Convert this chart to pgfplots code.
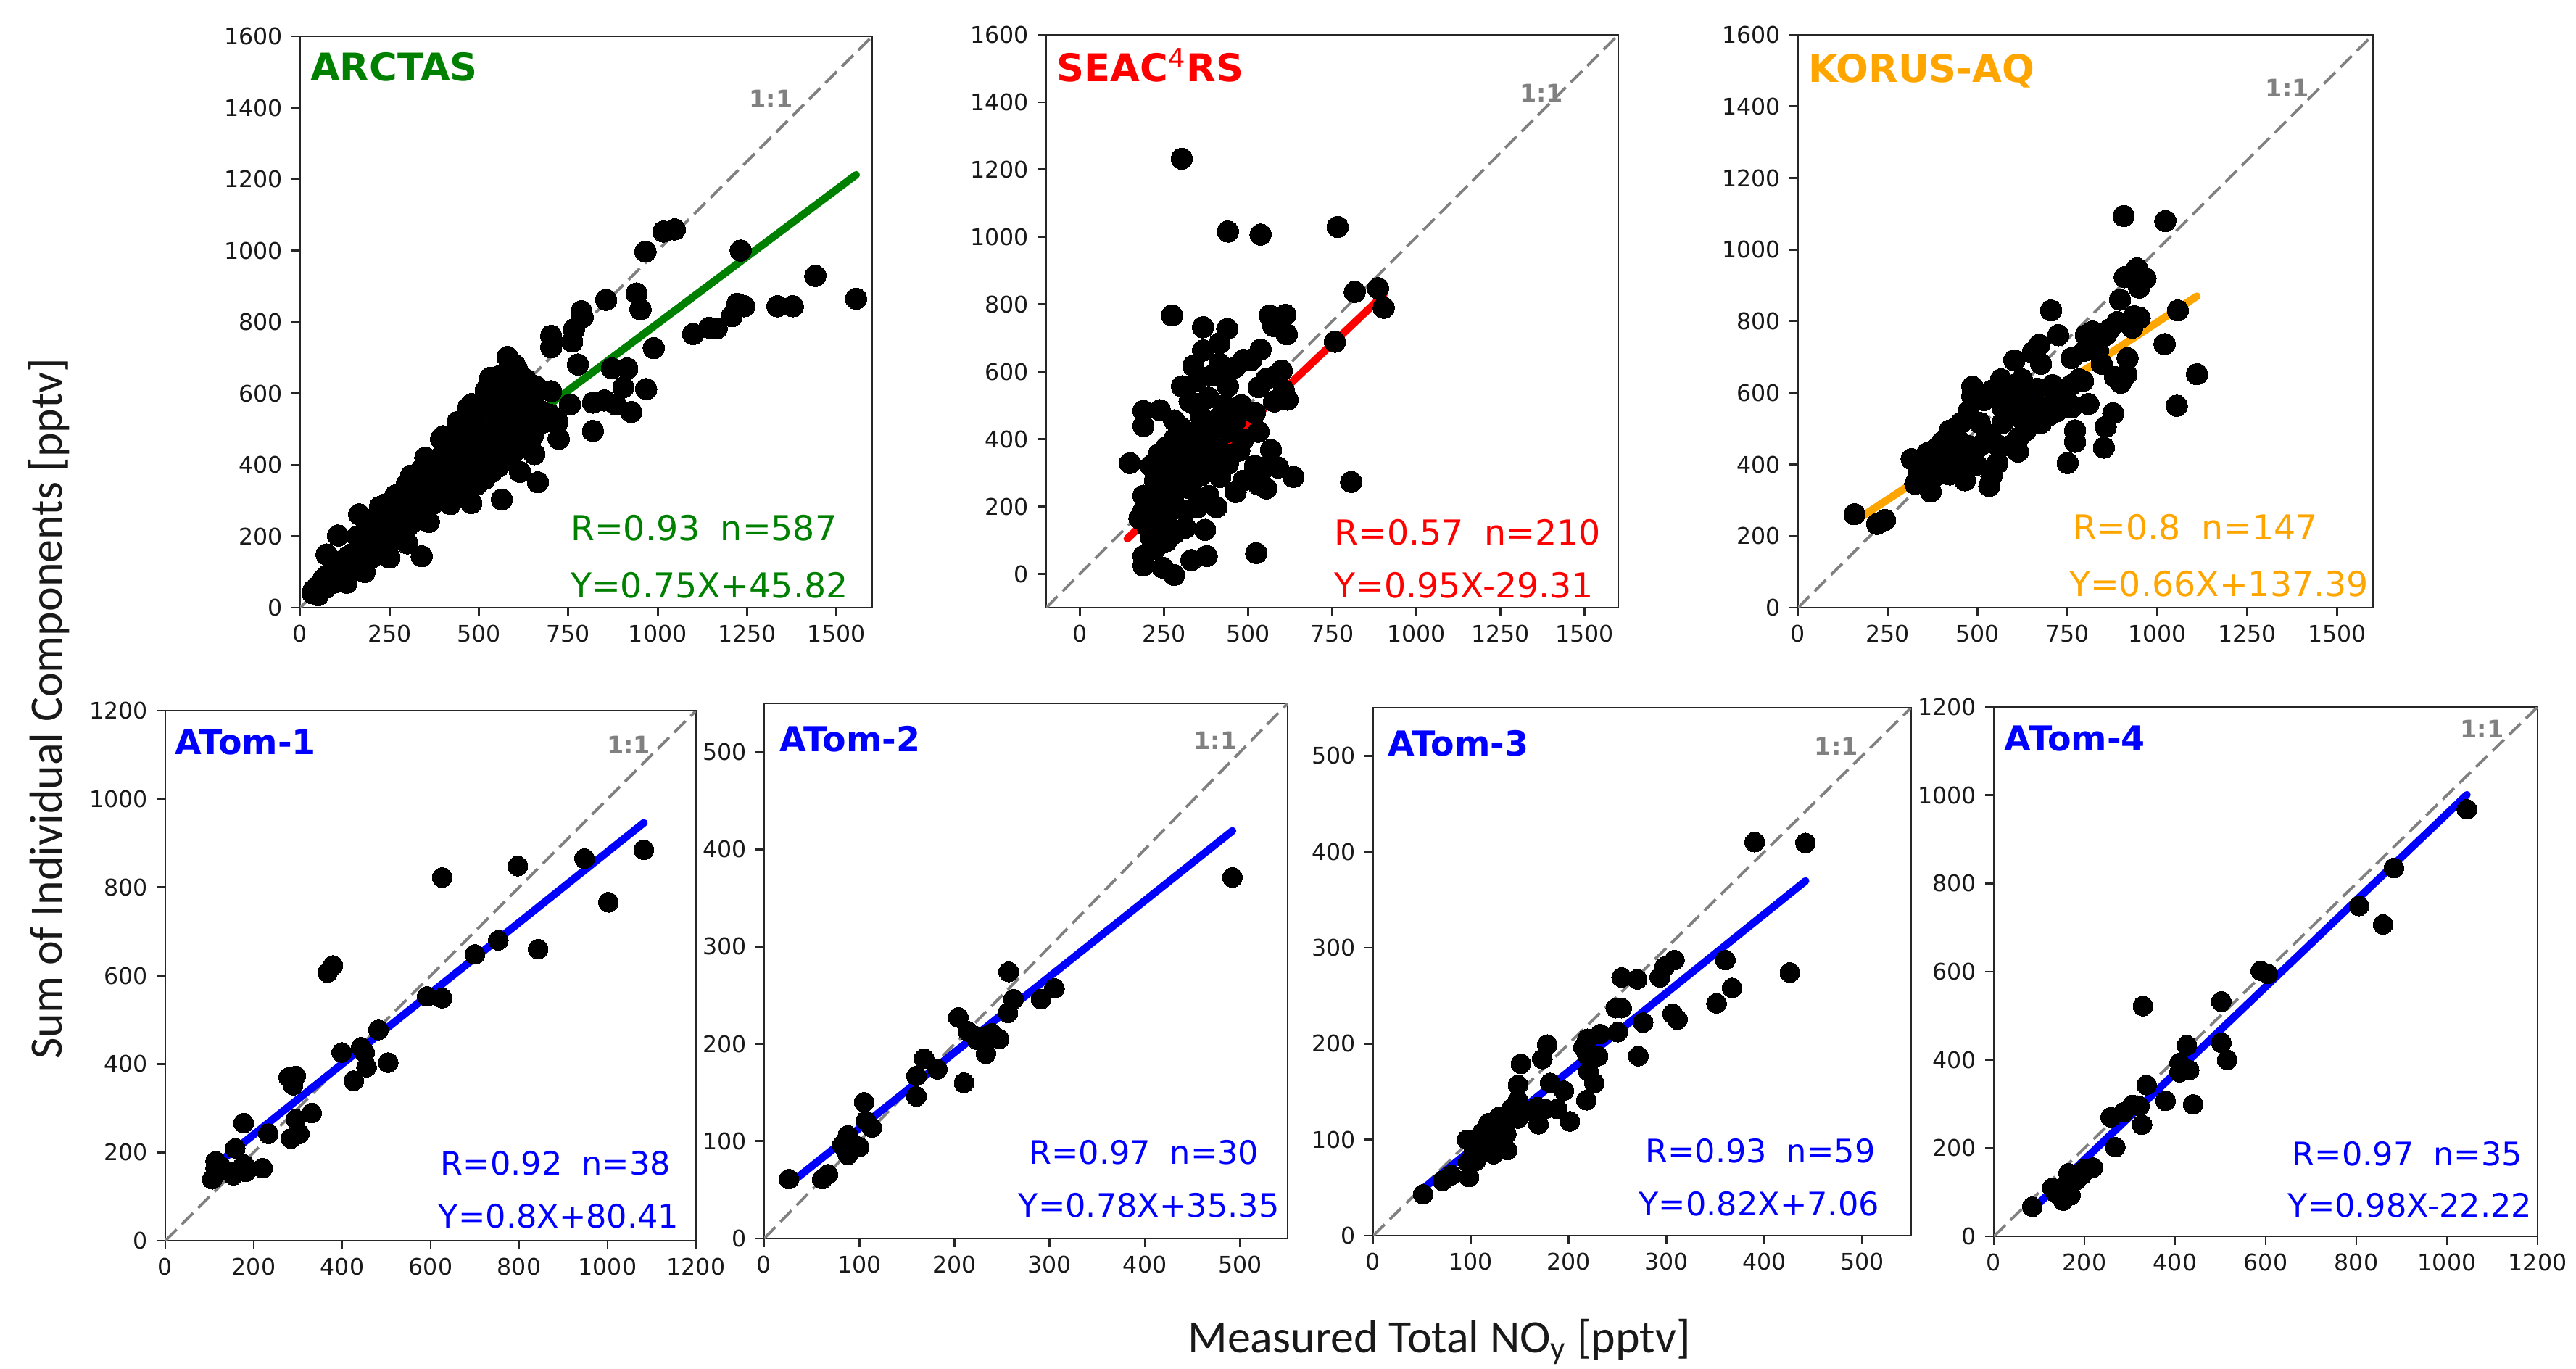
\documentclass[border=0pt]{standalone}
\usepackage{fontspec}
\setmainfont{DejaVu Sans}
\newfontfamily\carlito{Carlito}
\usepackage{pgfplots}
\pgfplotsset{compat=1.18}

\definecolor{cgreen}{HTML}{008000}
\definecolor{cred}{HTML}{FF0000}
\definecolor{corange}{HTML}{FFA500}
\definecolor{cblue}{HTML}{0000FF}
\definecolor{cgray}{HTML}{808080}

\newcommand{\tickfont}{\fontsize{9}{10}\selectfont}
\newcommand{\statfont}{\fontsize{13.5}{15}\selectfont}
\newcommand{\statfontb}{\fontsize{12.7}{14}\selectfont}
\newcommand{\ttlfont}{\fontsize{15}{17}\selectfont\bfseries}
\newcommand{\ttlfontb}{\fontsize{13.5}{15}\selectfont\bfseries}
\newcommand{\labfont}{\carlito\fontsize{18.2}{21}\selectfont}

\pgfplotsset{
  panel/.style={
    scale only axis, anchor=north west,
    axis line style={line width=0.8pt, black!85},
    tick align=outside, xtick pos=left, ytick pos=left,
    major tick length=0.12cm,
    every tick/.append style={line width=0.8pt, black!85},
    ticklabel style={font=\tickfont, text=black!90},
    /pgf/number format/assume math mode=true,
    /pgf/number format/1000 sep={},
  },
  pts/.style={only marks, mark=*, mark size=#1,
    mark options={fill=black, draw=black, line width=0pt}},
  oneone/.style={cgray, line width=1.1pt, dash pattern=on 0.22cm off 0.10cm},
  fit/.style={line width=3pt, line cap=round},
}

\begin{document}
\begin{tikzpicture}
\useasboundingbox (0,0) rectangle (35.53cm,-18.87cm);

% ---------------- ARCTAS ----------------
\begin{axis}[panel, at={(4.14cm,-0.50cm)}, width=7.89cm, height=7.88cm,
  xmin=0, xmax=1600, ymin=0, ymax=1600,
  xtick={0,250,...,1500}, ytick={0,200,...,1600}]
\addplot[pts=4.2pt] coordinates {
(1555,865) (1441,929) (1378,844) (1335,844) (1242,844) (1223,851) (1207,816)
(1165,782) (1144,784) (1099,766) (1232,1000) (1016,1053) (1048,1059) (966,997)
(989,727) (941,880) (952,835) (856,862) (787,830) (790,814) (766,780) (702,761)
(702,729) (761,745) (580,702) (606,670) (532,644) (777,681) (915,670) (872,670)
(904,617) (968,612) (926,548) (819,574) (851,580) (883,569) (702,606) (755,569)
(723,473) (819,495) (665,351) (564,303) (479,293) (340,144) (106,202) (165,261)
(74,149) (37,48) (394,473) (441,495) (378,404) (479,537) (521,590) (564,622)
(649,580) (713,527) (298,346) (340,388) (223,282) (266,314)
(35,40) (45,55) (50,35) (55,65) (60,50) (65,80) (70,55) (75,90) (80,65) (85,75)
(90,100) (95,70) (100,120) (100,85) (110,95) (115,130) (120,110) (125,85)
(130,140) (135,115) (140,100) (145,150) (150,125)
(155,110) (160,160) (165,135) (170,120) (175,175) (180,150) (185,130) (190,190)
(195,160) (200,140) (205,210) (210,175) (215,150) (220,230) (225,190) (230,160)
(235,240) (240,200) (245,175) (250,255) (250,220) (255,185)
(260,270) (265,230) (270,200) (275,285) (280,245) (285,210) (290,300) (295,260)
(300,225) (305,320) (310,275) (315,240) (320,335) (325,290) (330,250) (335,350)
(340,305) (345,265) (350,370) (350,320) (355,280)
(360,385) (365,335) (370,290) (375,400) (380,350) (385,305) (390,420) (395,365)
(400,320) (405,440) (410,380) (415,335) (420,455) (425,395) (430,350) (435,470)
(440,410) (445,360) (450,490) (450,425) (455,375) (460,330)
(465,505) (470,440) (475,390) (480,520) (485,455) (490,400) (495,345) (500,540)
(505,470) (510,415) (515,360) (520,555) (525,485) (530,430) (535,380) (540,575)
(545,500) (550,445) (555,395) (560,590) (560,520) (565,460)
(570,410) (575,610) (580,540) (585,480) (590,425) (595,630) (600,560) (605,500)
(610,445) (615,380) (620,580) (625,520) (630,465) (640,600) (645,540) (650,480)
(655,430) (660,560) (665,510) (675,550) (685,520) (700,540) (720,520) (660,620)
(630,640) (600,680) (560,650) (520,610) (480,570)
(240,290) (200,240) (160,200) (310,370) (350,420) (400,480) (440,520) (470,560)
(520,600) (580,660) (300,180) (360,240) (420,290) (250,140) (180,100) (130,70)
};
\addplot[oneone] coordinates {(0,0) (1600,1600)};
\addplot[fit, cgreen] coordinates {(32,69.8) (1555,1212)};
\node[anchor=north west, inner sep=0pt, text=cgreen, font=\ttlfont]
  at (rel axis cs:0.017,0.973) {ARCTAS};
\node[text=cgray, font=\fontsize{9.5}{11}\selectfont\bfseries]
  at (rel axis cs:0.823,0.89) {1:1};
\node[anchor=base west, inner sep=0pt, text=cgreen, font=\statfont]
  at (rel axis cs:0.472,0.117) {R=0.93\hspace{0.6em}n=587};
\node[anchor=base west, inner sep=0pt, text=cgreen, font=\statfont]
  at (rel axis cs:0.472,0.017) {Y=0.75X+45.82};
\end{axis}

% ---------------- SEAC4RS ----------------
\begin{axis}[panel, at={(14.43cm,-0.48cm)}, width=7.89cm, height=7.90cm,
  xmin=-100, xmax=1600, ymin=-100, ymax=1600,
  xtick={0,250,...,1500}, ytick={0,200,...,1600}]
\addplot[pts=4.2pt] coordinates {
(303,1232) (440,1016) (537,1007) (766,1030) (817,837) (886,848) (903,790)
(274,767) (366,732) (438,727) (564,767) (611,769) (575,736) (615,711) (758,689)
(806,273) (524,62) (149,329) (189,484) (238,486) (189,439)
(415,685) (366,663) (537,666) (509,635) (337,618) (415,624) (461,613) (600,604)
(577,585) (531,554) (349,573) (394,590) (440,557) (383,523) (337,506) (429,501)
(480,501) (617,517) (606,545) (360,467) (417,467) (463,456) (303,433) (349,422)
(394,428) (440,422) (531,422) (486,400) (280,400) (257,377) (314,377) (360,377)
(417,366) (568,368) (234,355) (292,344) (337,344) (394,333) (440,327) (520,321)
(543,310) (589,316) (635,288) (211,321) (246,310) (303,299) (360,293) (417,288)
(486,277) (531,265) (463,243) (554,254) (223,277) (269,265) (326,254) (383,232)
(349,198) (189,232) (234,221) (280,209) (314,187) (189,187) (223,176) (257,165)
(200,142) (246,131) (314,137) (372,131) (211,109) (257,97) (223,75) (189,53)
(189,25) (246,19) (280,-3) (331,41) (377,53) (280,456) (326,512) (303,557)
(429,590) (486,635) (554,579) (577,512) (520,478) (383,400) (474,366) (269,243)
(177,165) (326,400) (406,198) (280,120)
};
\addplot[oneone] coordinates {(-100,-100) (1600,1600)};
\addplot[fit, cred] coordinates {(141,104.6) (903,828.5)};
\node[anchor=north west, inner sep=0pt, text=cred, font=\ttlfont]
  at (rel axis cs:0.018,0.977) {SEAC\textsuperscript{\mdseries 4}RS};
\node[text=cgray, font=\fontsize{9.5}{11}\selectfont\bfseries]
  at (rel axis cs:0.866,0.898) {1:1};
\node[anchor=base west, inner sep=0pt, text=cred, font=\statfont]
  at (rel axis cs:0.503,0.110) {R=0.57\hspace{0.6em}n=210};
\node[anchor=base west, inner sep=0pt, text=cred, font=\statfont]
  at (rel axis cs:0.503,0.017) {Y=0.95X-29.31};
\end{axis}

% ---------------- KORUS-AQ ----------------
\begin{axis}[panel, at={(24.80cm,-0.48cm)}, width=7.93cm, height=7.90cm,
  xmin=0, xmax=1600, ymin=0, ymax=1600,
  xtick={0,250,...,1500}, ytick={0,200,...,1600}]
\addplot[pts=4.2pt] coordinates {
(906,1094) (1022,1080) (943,947) (909,923) (967,920) (949,894) (896,860)
(704,830) (1057,830) (935,814) (888,798) (951,809) (724,761) (801,761) (819,771)
(856,761) (1020,736) (671,734) (653,713) (798,718) (761,697) (917,697) (845,681)
(602,691) (676,681) (1110,652) (914,652) (882,644) (898,628) (782,638) (761,622)
(565,638) (538,606) (485,617) (485,590) (634,596) (665,612) (718,585) (755,569)
(808,569) (761,559) (1054,564) (877,543) (856,505) (771,495) (771,463) (851,447)
(750,404) (612,569) (585,537) (569,559) (623,527) (676,559) (655,537) (697,537)
(634,495) (612,473) (591,452) (612,436) (550,457) (555,404) (538,367) (532,340)
(506,516) (474,548) (453,516) (422,495) (443,473) (401,463) (474,452) (453,420)
(485,426) (506,452) (527,484) (380,441) (359,431) (401,410) (443,394) (464,378)
(422,372) (359,394) (316,415) (337,378) (326,346) (369,324) (391,388) (348,356)
(157,261) (220,234) (242,245) (570,601) (602,622) (517,580) (676,516) (644,569)
(718,548) (569,516) (496,399) (412,431) (380,367) (443,441) (740,601) (793,633)
(835,718) (867,777) (930,782) (464,356) (623,638) (708,622)
};
\addplot[oneone] coordinates {(0,0) (1600,1600)};
\addplot[fit, corange] coordinates {(157,241) (1110,870)};
\node[anchor=north west, inner sep=0pt, text=corange, font=\ttlfont]
  at (rel axis cs:0.017,0.967) {KORUS-AQ};
\node[text=cgray, font=\fontsize{9.5}{11}\selectfont\bfseries]
  at (rel axis cs:0.851,0.907) {1:1};
\node[anchor=base west, inner sep=0pt, text=corange, font=\statfont]
  at (rel axis cs:0.478,0.119) {R=0.8\hspace{0.6em}n=147};
\node[anchor=base west, inner sep=0pt, text=corange, font=\statfont]
  at (rel axis cs:0.471,0.020) {Y=0.66X+137.39};
\end{axis}

% ---------------- ATom-1 ----------------
\begin{axis}[panel, at={(2.28cm,-9.80cm)}, width=7.32cm, height=7.31cm,
  xmin=0, xmax=1200, ymin=0, ymax=1200,
  xtick={0,200,...,1200}, ytick={0,200,...,1200}]
\addplot[pts=3.9pt] coordinates {
(1082,885) (948,865) (797,848) (626,822) (1002,766) (753,680) (700,648)
(843,660) (379,623) (367,607) (592,553) (626,549) (482,477) (399,426) (451,426)
(504,403) (455,393) (426,362) (279,369) (295,373) (289,352) (331,289) (295,275)
(303,242) (284,231) (177,266) (233,242) (220,164) (158,209) (178,172) (154,148)
(114,180) (114,164) (106,139) (182,156) (146,156) (443,438) (126,168)
};
\addplot[oneone] coordinates {(0,0) (1200,1200)};
\addplot[fit, cblue] coordinates {(106,165) (1082,946)};
\node[anchor=north west, inner sep=0pt, text=cblue, font=\ttlfontb]
  at (rel axis cs:0.018,0.966) {ATom-1};
\node[text=cgray, font=\fontsize{9.5}{11}\selectfont\bfseries]
  at (rel axis cs:0.873,0.935) {1:1};
\node[anchor=base west, inner sep=0pt, text=cblue, font=\statfontb]
  at (rel axis cs:0.518,0.124) {R=0.92\hspace{0.6em}n=38};
\node[anchor=base west, inner sep=0pt, text=cblue, font=\statfontb]
  at (rel axis cs:0.514,0.024) {Y=0.8X+80.41};
\end{axis}

% ---------------- ATom-2 ----------------
\begin{axis}[panel, at={(10.54cm,-9.70cm)}, width=7.22cm, height=7.38cm,
  xmin=0, xmax=550, ymin=0, ymax=550,
  xtick={0,100,...,500}, ytick={0,100,...,500}]
\addplot[pts=3.9pt] coordinates {
(492,371) (257,274) (305,257) (291,246) (262,246) (256,232) (204,227) (224,204)
(233,208) (247,205) (233,190) (210,160) (168,185) (182,174) (160,167) (160,146)
(105,140) (107,121) (88,106) (100,94) (88,86) (94,97) (67,66) (61,61) (26,61)
(239,211) (214,213) (113,114) (82,96) (222,208)
};
\addplot[oneone] coordinates {(0,0) (550,550)};
\addplot[fit, cblue] coordinates {(26,55.6) (492,419)};
\node[anchor=north west, inner sep=0pt, text=cblue, font=\ttlfontb]
  at (rel axis cs:0.029,0.958) {ATom-2};
\node[text=cgray, font=\fontsize{9.5}{11}\selectfont\bfseries]
  at (rel axis cs:0.862,0.93) {1:1};
\node[anchor=base west, inner sep=0pt, text=cblue, font=\statfontb]
  at (rel axis cs:0.505,0.139) {R=0.97\hspace{0.6em}n=30};
\node[anchor=base west, inner sep=0pt, text=cblue, font=\statfontb]
  at (rel axis cs:0.485,0.040) {Y=0.78X+35.35};
\end{axis}

% ---------------- ATom-3 ----------------
\begin{axis}[panel, at={(18.94cm,-9.76cm)}, width=7.42cm, height=7.28cm,
  xmin=0, xmax=550, ymin=0, ymax=550,
  xtick={0,100,...,500}, ytick={0,100,...,500}]
\addplot[pts=3.9pt] coordinates {
(390,410) (442,409) (426,274) (360,287) (367,258) (351,242) (308,287) (298,280)
(293,269) (254,269) (270,267) (254,237) (306,231) (311,225) (276,222) (250,212)
(232,210) (219,205) (215,196) (230,187) (271,187) (178,199) (173,184) (151,179)
(181,159) (220,171) (226,159) (195,151) (218,141) (148,157) (148,141) (157,130)
(148,122) (176,132) (188,132) (169,116) (201,119) (129,124) (118,117) (136,106)
(126,98) (137,89) (123,85) (115,94) (96,100) (103,87) (105,78) (97,76) (80,63)
(71,57) (98,61) (51,43) (111,107) (134,113) (120,106) (141,132) (219,188)
(248,237) (168,134)
};
\addplot[oneone] coordinates {(0,0) (550,550)};
\addplot[fit, cblue] coordinates {(51,48.9) (442,369.5)};
\node[anchor=north west, inner sep=0pt, text=cblue, font=\ttlfontb]
  at (rel axis cs:0.027,0.958) {ATom-3};
\node[text=cgray, font=\fontsize{9.5}{11}\selectfont\bfseries]
  at (rel axis cs:0.861,0.927) {1:1};
\node[anchor=base west, inner sep=0pt, text=cblue, font=\statfontb]
  at (rel axis cs:0.505,0.138) {R=0.93\hspace{0.6em}n=59};
\node[anchor=base west, inner sep=0pt, text=cblue, font=\statfontb]
  at (rel axis cs:0.493,0.038) {Y=0.82X+7.06};
\end{axis}

% ---------------- ATom-4 ----------------
\begin{axis}[panel, at={(27.50cm,-9.75cm)}, width=7.50cm, height=7.30cm,
  xmin=0, xmax=1200, ymin=0, ymax=1200,
  xtick={0,200,...,1200}, ytick={0,200,...,1200}]
\addplot[pts=3.9pt] coordinates {
(1044,968) (883,835) (806,749) (859,707) (589,602) (605,595) (329,522) (502,532)
(502,439) (515,400) (426,433) (410,372) (431,377) (410,393) (440,299) (379,307)
(337,343) (321,295) (327,253) (286,281) (258,270) (268,202) (219,156) (200,152)
(181,127) (165,143) (149,102) (169,93) (153,81) (129,110) (85,67) (161,118)
(306,298) (194,139) (137,98)
};
\addplot[oneone] coordinates {(0,0) (1200,1200)};
\addplot[fit, cblue] coordinates {(85,61) (1044,1001)};
\node[anchor=north west, inner sep=0pt, text=cblue, font=\ttlfontb]
  at (rel axis cs:0.019,0.965) {ATom-4};
\node[text=cgray, font=\fontsize{9.5}{11}\selectfont\bfseries]
  at (rel axis cs:0.898,0.958) {1:1};
\node[anchor=base west, inner sep=0pt, text=cblue, font=\statfontb]
  at (rel axis cs:0.548,0.134) {R=0.97\hspace{0.6em}n=35};
\node[anchor=base west, inner sep=0pt, text=cblue, font=\statfontb]
  at (rel axis cs:0.540,0.036) {Y=0.98X-22.22};
\end{axis}

% shared axis labels
\node[rotate=90, font=\labfont, text=black!90] at (0.68cm,-9.77cm)
  {Sum of Individual Components [pptv]};
\node[anchor=base, font=\labfont, text=black!90] at (19.85cm,-18.65cm)
  {Measured Total NO\textsubscript{y} [pptv]};
\end{tikzpicture}
\end{document}
